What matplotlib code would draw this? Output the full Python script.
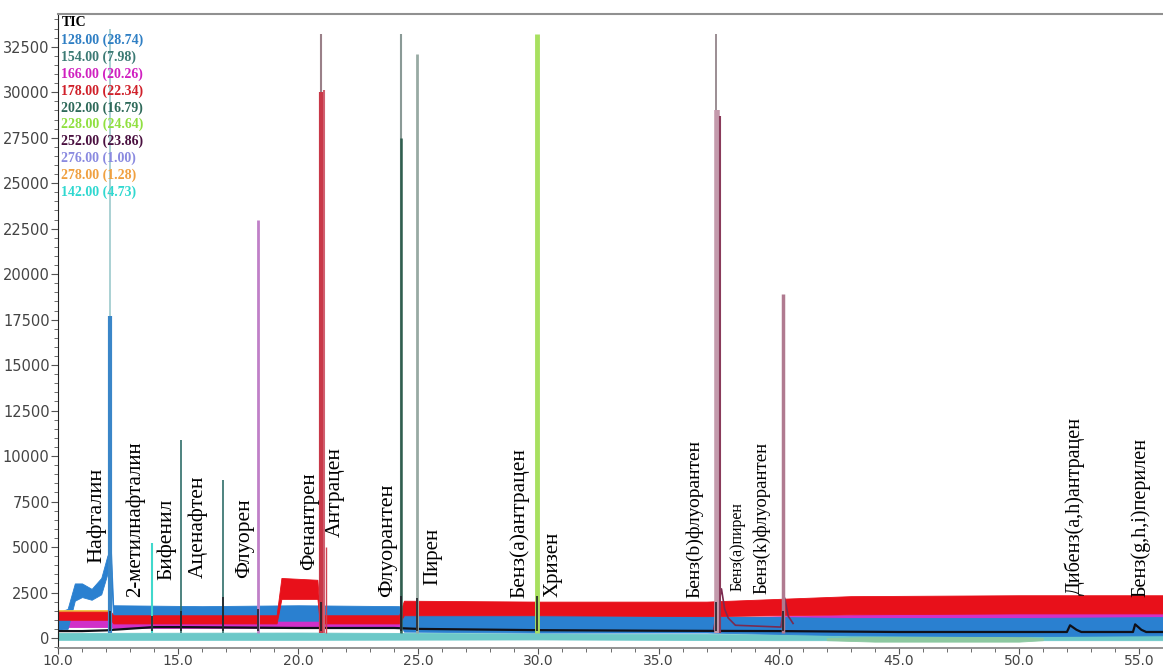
import numpy as np
import matplotlib.pyplot as plt
from matplotlib.ticker import MultipleLocator, FormatStrFormatter

# noise bands of the single-ion traces: retention time (min), lower and upper envelope
rt_142 = [10.0, 20.0, 30.0, 40.0, 56.0]
lo_142 = [-100, -100, -80, -120, -120]
hi_142 = [280, 300, 250, 200, 180]

rt_128 = [10.0, 10.4, 10.7, 11.0, 11.4, 11.8, 12.05, 12.2, 12.3, 16.0, 20.0, 24.2, 24.4, 30.0, 37.0, 43.0, 50.0, 56.0]
lo_128 = [450, 500, 2050, 2250, 2100, 2400, 3500, 3700, 900, 950, 950, 950, 350, 300, 300, 150, 100, 150]
hi_128 = [1400, 1600, 3000, 3000, 2700, 3300, 4500, 5000, 1800, 1750, 1800, 1750, 1250, 1250, 1200, 1100, 1100, 1150]

rt_166 = [10.0, 12.2, 12.3, 24.2, 24.4, 37.0, 45.0, 56.0]
lo_166 = [600, 600, 550, 550, 500, 500, 1000, 1050]
hi_166 = [1100, 1100, 1150, 1200, 1000, 1100, 1350, 1400]

rt_178 = [10.0, 12.2, 12.3, 19.1, 19.3, 20.8, 20.9, 24.2, 24.4, 30.0, 37.0, 43.0, 50.0, 56.0]
lo_178 = [1000, 1000, 800, 800, 2150, 2150, 800, 800, 1250, 1250, 1200, 1300, 1350, 1350]
hi_178 = [1450, 1450, 1250, 1250, 3300, 3200, 1250, 1250, 2050, 2000, 2000, 2300, 2350, 2350]

rt_278 = [10.0, 12.2]
lo_278 = [1400, 1400]
hi_278 = [1550, 1550]

rt_228 = [42.0, 44.0, 50.0, 51.0]
lo_228 = [-120, -200, -200, -120]
hi_228 = [0, 60, 60, 0]

# total ion current baseline
rt_tic = [10.0, 11.0, 12.0, 12.3, 14.0, 15.0, 20.0, 24.0, 25.0, 30.0, 35.0, 40.0, 45.0,
          52.0, 52.13, 52.4, 52.6, 54.75, 54.84, 55.1, 55.3, 56.0]
tic = [380, 380, 420, 450, 600, 600, 550, 550, 500, 430, 400, 380, 330,
       330, 700, 450, 330, 330, 750, 450, 330, 330]

# 252 trace tails behind the benzofluoranthene peaks
rt_252 = [37.3, 37.62, 37.75, 37.9, 38.2, 40.1, 40.25, 40.4, 40.6]
tail_252 = [500, 2700, 1600, 1100, 700, 600, 2200, 1200, 800]

# chromatographic peaks: retention time, apex, trace colour, line width
peak_rt = [12.16, 12.16, 13.91, 15.11, 16.86, 18.32, 20.95, 20.95, 21.07, 21.17,
           24.28, 24.28, 24.95, 29.94, 37.39, 37.43, 37.56, 40.18]
peak_top = [33500, 17700, 5200, 10900, 8700, 23000, 33200, 30000, 30100, 5000,
            33200, 27500, 32100, 33200, 33200, 29000, 28700, 18900]
peak_color = ['#9cc9cc', '#3a86c8', '#40d8cc', '#2f6e6a', '#2f6e6a', '#c080c8', '#9a8088', '#c83848',
              '#d06070', '#d04050', '#8a9a96', '#2f5f4f', '#98aaa4', '#a8e060', '#8a7a80',
              '#c49aac', '#8a3a5a', '#b07a90']
peak_lw = [1.2, 3.0, 1.5, 1.2, 1.2, 2.0, 1.5, 3.0, 1.5, 1.0, 1.5, 1.8, 2.0, 3.5, 1.2, 4.0, 1.5, 2.5]

# small TIC bumps under the ion peaks
tic_peak_rt = [12.16, 13.91, 15.11, 16.86, 18.32, 20.95, 24.28, 24.95, 29.94, 37.39, 40.18]
tic_peak_top = [1500, 1200, 1500, 2250, 1600, 2000, 2300, 2200, 2300, 2000, 1500]

legend_text = ["128.00 (28.74)", "154.00 (7.98)", "166.00 (20.26)", "178.00 (22.34)",
               "202.00 (16.79)", "228.00 (24.64)", "252.00 (23.86)", "276.00 (1.00)",
               "278.00 (1.28)", "142.00 (4.73)"]
legend_color = ['#2f7fc4', '#3c7a74', '#d020c0', '#d0202a', '#2f6a5a', '#90e040',
                '#4a1040', '#8a8ae0', '#f0a040', '#30d8d0']

compounds = ["Нафталин", "2-метилнафталин", "Бифенил", "Аценафтен", "Флуорен", "Фенантрен",
             "Антрацен", "Флуорантен", "Пирен", "Бенз(а)антрацен", "Хризен",
             "Бенз(b)флуорантен", "Бенз(а)пирен", "Бенз(k)флуорантен",
             "Дибенз(a,h)антрацен", "Бенз(g,h,i)перилен"]
# label anchor (rt, bottom of text) and font size
label_x = [11.62, 13.21, 14.54, 15.83, 17.78, 20.49, 21.53, 23.74, 25.61, 29.23, 30.61,
           36.52, 38.31, 39.31, 52.30, 55.05]
label_y = [4125, 2255, 3190, 3300, 3300, 3740, 5555, 2255, 2915, 2200, 2255,
           2200, 2585, 2420, 2365, 2255]
label_fs = [16, 15, 15.5, 15.5, 15.5, 15, 15.5, 16, 15, 15.5, 15, 14, 11.5, 13.5, 14.5, 14.5]

fig = plt.figure(figsize=(11.63, 6.70), dpi=100)
ax = fig.add_axes([58 / 1163, 22 / 670, 1105 / 1163, 634 / 670])

bands = [(rt_142, lo_142, hi_142, '#6cc8c8'),
         (rt_228, lo_228, hi_228, '#8cc8a0'),
         (rt_166, lo_166, hi_166, '#d030c8'),
         (rt_128, lo_128, hi_128, '#2a80d0'),
         (rt_278, lo_278, hi_278, '#f0c040'),
         (rt_178, lo_178, hi_178, '#e8101a')]
for rt, lo, hi, c in bands:
    ax.fill_between(rt, lo, hi, color=c, lw=0.6, ec=c)

ax.plot(rt_252, tail_252, color='#7a2a50', lw=1.2)
ax.plot(rt_tic, tic, color='#101018', lw=1.6)

order = np.argsort(peak_top)[::-1]
for i in order:
    ax.vlines(peak_rt[i], 300, peak_top[i], colors=peak_color[i], lw=peak_lw[i])
ax.vlines(tic_peak_rt, 400, tic_peak_top, colors='#202028', lw=1.2)

for name, x, y, fs in zip(compounds, label_x, label_y, label_fs):
    ax.text(x, y, name, rotation=90, ha='center', va='bottom', fontsize=fs,
            family='Liberation Serif', color='black')

# ion legend in the top-left corner
ax.text(0.003, 0.986, "TIC", transform=ax.transAxes, fontsize=10, fontweight='bold',
        family='Liberation Serif', color='black', va='center')
for k, (t, c) in enumerate(zip(legend_text, legend_color)):
    ax.text(0.003, 0.958 - k * 0.0265, t, transform=ax.transAxes, fontsize=10,
            fontweight='bold', family='Liberation Serif', color=c, va='center')

ax.set_xlim(10.0, 56.0)
ax.set_ylim(-550, 34300)
ax.xaxis.set_major_locator(MultipleLocator(5))
ax.xaxis.set_minor_locator(MultipleLocator(1))
ax.xaxis.set_major_formatter(FormatStrFormatter('%.1f'))
ax.yaxis.set_major_locator(MultipleLocator(2500))
ax.yaxis.set_minor_locator(MultipleLocator(500))
ax.tick_params(axis='both', which='major', direction='out',
               labelcolor='#444444', color='#555555')
ax.tick_params(axis='y', which='major', length=5, pad=1, labelsize=10.5)
ax.tick_params(axis='x', which='major', length=4, pad=0.5, labelsize=10)
ax.tick_params(axis='y', which='minor', length=3, color='#555555')
ax.tick_params(axis='x', which='minor', length=3, color='#555555')

ax.spines['right'].set_visible(False)
ax.spines['left'].set_color('#222222')
ax.spines['bottom'].set_color('#8a8a8a')
ax.spines['bottom'].set_linewidth(1.3)
ax.spines['top'].set_color('#909090')
ax.spines['top'].set_linewidth(1.5)

fig.savefig('out.png', dpi=100)
